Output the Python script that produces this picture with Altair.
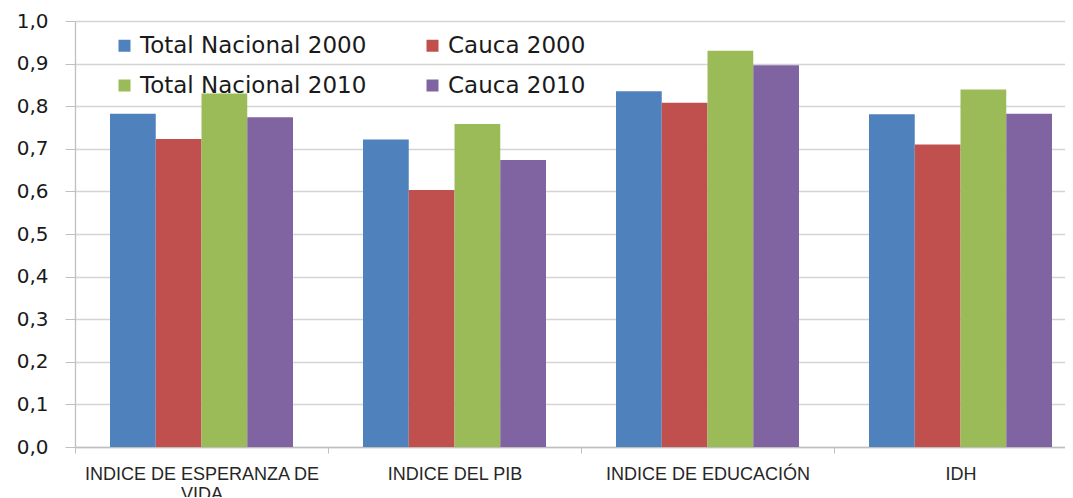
import altair as alt
import pandas as pd

categories = ["INDICE DE ESPERANZA DE VIDA", "INDICE DEL PIB", "INDICE DE EDUCACIÓN", "IDH"]
series_names = ["Total Nacional 2000", "Cauca 2000", "Total Nacional 2010", "Cauca 2010"]
tn2000 = [0.782, 0.722, 0.835, 0.781]
cauca2000 = [0.723, 0.603, 0.808, 0.710]
tn2010 = [0.830, 0.758, 0.930, 0.839]
cauca2010 = [0.774, 0.674, 0.896, 0.782]
colors = ["#4F81BD", "#C0504D", "#9BBB59", "#8064A2"]
y_ticks = [0.0, 0.1, 0.2, 0.3, 0.4, 0.5, 0.6, 0.7, 0.8, 0.9, 1.0]

rows = []
for s, vals in zip(series_names, [tn2000, cauca2000, tn2010, cauca2010]):
    for c, v in zip(categories, vals):
        rows.append({"categoria": c, "serie": s, "valor": v})
df = pd.DataFrame(rows)

chart = alt.Chart(df).mark_bar().encode(
    x=alt.X(
        "categoria:N",
        sort=categories,
        scale=alt.Scale(paddingInner=0, paddingOuter=0, range=[0, 1012]),
        axis=alt.Axis(
            title=None,
            labelAngle=0,
            tickBand="extent",
            tickSize=6,
            tickColor="#bfbfbf",
            domainColor="#bfbfbf",
            domainWidth=1.3,
            labelFont="Liberation Sans",
            labelFontSize=18,
            labelColor="#262626",
            labelPadding=12,
            labelLineHeight=20,
            labelLimit=400,
            labelBaseline="top",
            labelExpr="datum.label == 'INDICE DE ESPERANZA DE VIDA' ? ['INDICE DE ESPERANZA DE', 'VIDA'] : datum.label",
            grid=False,
        ),
    ),
    xOffset=alt.XOffset(
        "serie:N",
        sort=series_names,
        scale=alt.Scale(paddingInner=0, paddingOuter=0.765),
    ),
    y=alt.Y(
        "valor:Q",
        scale=alt.Scale(domain=[0, 1], nice=False),
        axis=alt.Axis(
            title=None,
            values=y_ticks,
            labelExpr="replace(format(datum.value, '.1f'), '.', ',')",
            labelFont="DejaVu Sans",
            labelFontSize=20,
            labelColor="#1a1a1a",
            labelPadding=17,
            tickSize=10,
            tickColor="#bfbfbf",
            domainColor="#bfbfbf",
            domainWidth=1.3,
            gridColor="#d4d4d4",
            gridWidth=1.3,
        ),
    ),
    color=alt.Color(
        "serie:N",
        sort=series_names,
        scale=alt.Scale(domain=series_names, range=colors),
        legend=alt.Legend(
            title=None,
            orient="none",
            direction="horizontal",
            legendX=38,
            legendY=13,
            columns=2,
            columnPadding=54,
            rowPadding=16,
            padding=0,
            symbolType="square",
            symbolSize=144,
            symbolStrokeWidth=0,
            labelFont="DejaVu Sans",
            labelFontSize=23,
            labelColor="#1a1a1a",
            labelOffset=4,
            labelLimit=400,
        ),
    ),
).properties(
    width=990,
    height=426,
    autosize=alt.AutoSizeParams(type="none"),
    padding={"left": 67, "top": 13, "right": 0, "bottom": 50},
).configure_view(stroke=None)

chart.save("out.html", embed_options={"renderer": "svg", "actions": False})
